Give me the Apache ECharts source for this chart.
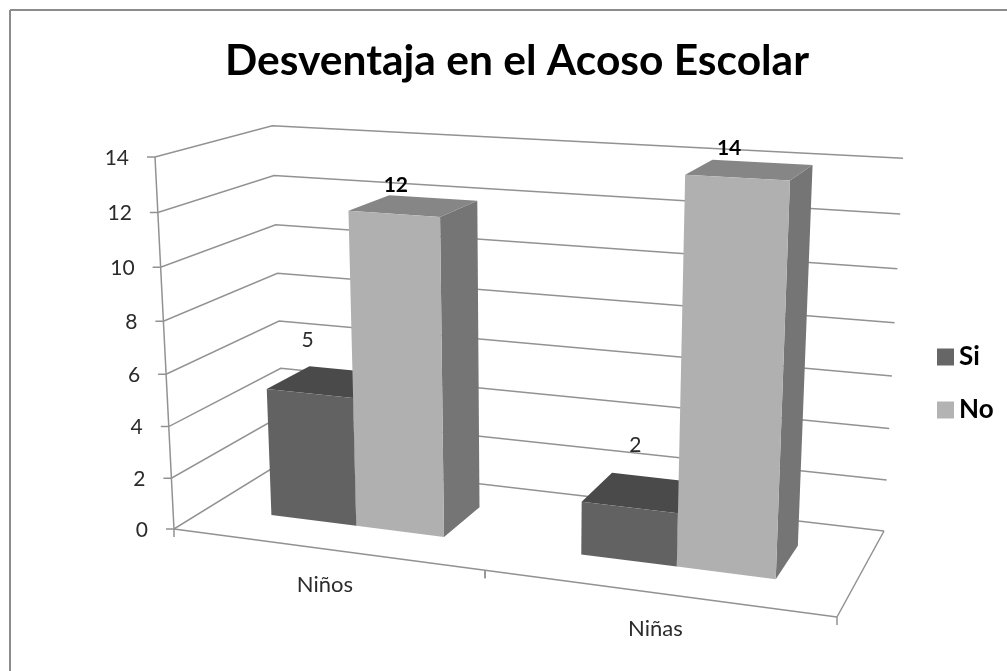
<!DOCTYPE html>
<html>
<head>
<meta charset="utf-8">
<title>Desventaja en el Acoso Escolar</title>
<style>
  html, body { margin: 0; padding: 0; background: #fff; }
  #chart { width: 1007px; height: 671px; }
</style>
<script src="https://cdn.jsdelivr.net/npm/echarts@6/dist/echarts.min.js"></script>
</head>
<body>
<div id="chart"></div>
<script>
const categories = ["Niños", "Niñas"];
const siValues = [5, 2];
const noValues = [12, 14];
const yTicks = [0, 2, 4, 6, 8, 10, 12, 14];

const FONT = "Lato, 'Open Sans', sans-serif";
const LINE = "#929292";
const TEXT = "#2b2b2b";

// floor of the 3D box as seen in the picture: front-left, front-right, back-right, back-left
const floorQuad = [[174, 529], [837, 617], [884, 531], [284, 461]];
// tops of the two outer wall edges, they fix how the box rises over the floor
const frontLeftTop = [155, 157];
const backRightTop = [903, 157];
const BAR_FRONT = 0.3;
const BAR_BACK = 0.7;

// data labels sit a bit off the bar top, shift from the middle of the front top edge
const siLabelShift = [[-2, -53], [6, -62]];
const noLabelShift = [[2, -29], [-8, -29]];

function squareToQuad(q) {
  const [[x0, y0], [x1, y1], [x2, y2], [x3, y3]] = q;
  const dx1 = x1 - x2, dx2 = x3 - x2, dy1 = y1 - y2, dy2 = y3 - y2;
  const sx = x0 - x1 + x2 - x3, sy = y0 - y1 + y2 - y3;
  const den = dx1 * dy2 - dx2 * dy1;
  const g = (sx * dy2 - dx2 * sy) / den;
  const h = (dx1 * sy - sx * dy1) / den;
  const a = x1 - x0 + g * x1, b = x3 - x0 + h * x3;
  const d = y1 - y0 + g * y1, e = y3 - y0 + h * y3;
  return (u, w) => [a * u + b * w + x0, d * u + e * w + y0, g * u + h * w + 1];
}

const onFloor = squareToQuad(floorQuad);

function solveLift() {
  const kb = onFloor(1, 1)[2];
  const [xa, ya] = floorQuad[0];
  const xb = floorQuad[2][0];
  const tk = (kb * (xb - backRightTop[0]) + frontLeftTop[0] - xa) / (backRightTop[0] - frontLeftTop[0]);
  return [frontLeftTop[0] * (1 + tk) - xa, frontLeftTop[1] * (1 + tk) - ya, tk];
}

const lift = solveLift();

function project(u, v, w) {
  const p = onFloor(u, w);
  const k = p[2] + v * lift[2];
  return [(p[0] + v * lift[0]) / k, (p[1] + v * lift[1]) / k];
}

function toBox(params, point) {
  const cs = params.coordSys;
  return [(point[0] - cs.x) / cs.width, (cs.y + cs.height - point[1]) / cs.height];
}

function line(points, width) {
  return {
    type: "polyline",
    shape: { points },
    style: { stroke: LINE, lineWidth: width || 1.5, fill: null },
  };
}

function label(text, x, y, align, font, fill) {
  return {
    type: "text",
    style: { x, y, text, font, fill: fill || TEXT, textAlign: align, textVerticalAlign: "middle" },
  };
}

function renderGridLine(params, api) {
  const v = toBox(params, api.coord([0, api.value(1)]))[1];
  const front = project(0, v, 0);
  return {
    type: "group",
    children: [
      line([[front[0] - 8, front[1]], front, project(0, v, 1), project(1, v, 1)]),
      label(String(api.value(1)), front[0] - 26, front[1] + 1, "right", "21px " + FONT),
    ],
  };
}

function renderFloor(params, api) {
  const i = api.value(0);
  const cs = params.coordSys;
  const center = toBox(params, api.coord([i, 0]))[0];
  const half = toBox(params, [cs.x + api.size([1, 0])[0] / 2, 0])[0];
  const start = project(center - half, 0, 0);
  const end = project(center + half, 0, 0);
  const mid = project(center, 0, 0);
  const children = [
    line([start, end]),
    line([start, [start[0], start[1] + 8]]),
    line([end, [end[0], end[1] + 8]]),
    label(categories[i], mid[0], mid[1] + 36, "center", "22px " + FONT),
  ];
  if (i === 0) {
    children.push(line([start, project(center - half, 1, 0)]));
  } else {
    children.push(line([end, project(center + half, 0, 1)]));
  }
  return { type: "group", children };
}

function makeBarRenderer(side, colors, labelFont, labelFill, labelShift) {
  return (params, api) => {
    const cs = params.coordSys;
    const base = api.coord([api.value(0), api.value(1)]);
    const barWidth = api.size([1, 0])[0] / 3.5 / cs.width;
    const [center, v] = toBox(params, base);
    const u0 = side < 0 ? center - barWidth : center;
    const u1 = u0 + barWidth;
    const fl = (h) => project(u0, h, BAR_FRONT);
    const fr = (h) => project(u1, h, BAR_FRONT);
    const bl = (h) => project(u0, h, BAR_BACK);
    const br = (h) => project(u1, h, BAR_BACK);
    const topMid = project((u0 + u1) / 2, v, BAR_FRONT);
    const shift = labelShift[params.dataIndex];
    return {
      type: "group",
      children: [
        { type: "polygon", shape: { points: [fr(0), br(0), br(v), fr(v)] }, style: { fill: colors.side } },
        { type: "polygon", shape: { points: [fl(v), fr(v), br(v), bl(v)] }, style: { fill: colors.top } },
        { type: "polygon", shape: { points: [fl(0), fr(0), fr(v), fl(v)] }, style: { fill: colors.front } },
        label(String(api.value(1)), topMid[0] + shift[0], topMid[1] + shift[1], "center", labelFont, labelFill),
      ],
    };
  };
}

const chart = echarts.init(document.getElementById("chart"));
chart.setOption({
  animation: false,
  title: {
    text: "Desventaja en el Acoso Escolar",
    left: 220,
    top: 35,
    textStyle: { fontFamily: FONT, fontWeight: "bold", fontSize: 42.5, color: "#000" },
  },
  legend: {
    data: ["Si", "No"],
    orient: "vertical",
    left: 932,
    top: 339,
    itemWidth: 17,
    itemHeight: 17,
    itemGap: 27,
    selectedMode: false,
    icon: "rect",
    textStyle: { fontFamily: FONT, fontWeight: "bold", fontSize: 26, color: "#000" },
  },
  graphic: [
    { type: "line", shape: { x1: 10, y1: 10, x2: 1007, y2: 10 }, style: { stroke: "#8c8c8c", lineWidth: 2 } },
    { type: "line", shape: { x1: 10, y1: 10, x2: 10, y2: 671 }, style: { stroke: "#8c8c8c", lineWidth: 2 } },
  ],
  grid: { left: 155, top: 157, width: 748, height: 372 },
  xAxis: { type: "category", data: categories, show: false },
  yAxis: { type: "value", min: 0, max: 14, interval: 2, show: false },
  series: [
    {
      name: "rejilla",
      type: "custom",
      renderItem: renderGridLine,
      data: yTicks.map((tick) => [0, tick]),
      silent: true,
      clip: false,
    },
    {
      name: "base",
      type: "custom",
      renderItem: renderFloor,
      data: categories.map((_, i) => [i, 0]),
      silent: true,
      clip: false,
    },
    {
      name: "Si",
      type: "custom",
      itemStyle: { color: "#666666" },
      renderItem: makeBarRenderer(-1, { front: "#626262", top: "#4a4a4a", side: "#505050" }, "21px " + FONT, TEXT, siLabelShift),
      data: siValues.map((value, i) => [i, value]),
      encode: { x: 0, y: 1 },
      clip: false,
    },
    {
      name: "No",
      type: "custom",
      itemStyle: { color: "#b3b3b3" },
      renderItem: makeBarRenderer(1, { front: "#b0b0b0", top: "#868686", side: "#757575" }, "bold 21px " + FONT, "#000", noLabelShift),
      data: noValues.map((value, i) => [i, value]),
      encode: { x: 0, y: 1 },
      clip: false,
    },
  ],
});

window.addEventListener("resize", () => chart.resize());
</script>
</body>
</html>
